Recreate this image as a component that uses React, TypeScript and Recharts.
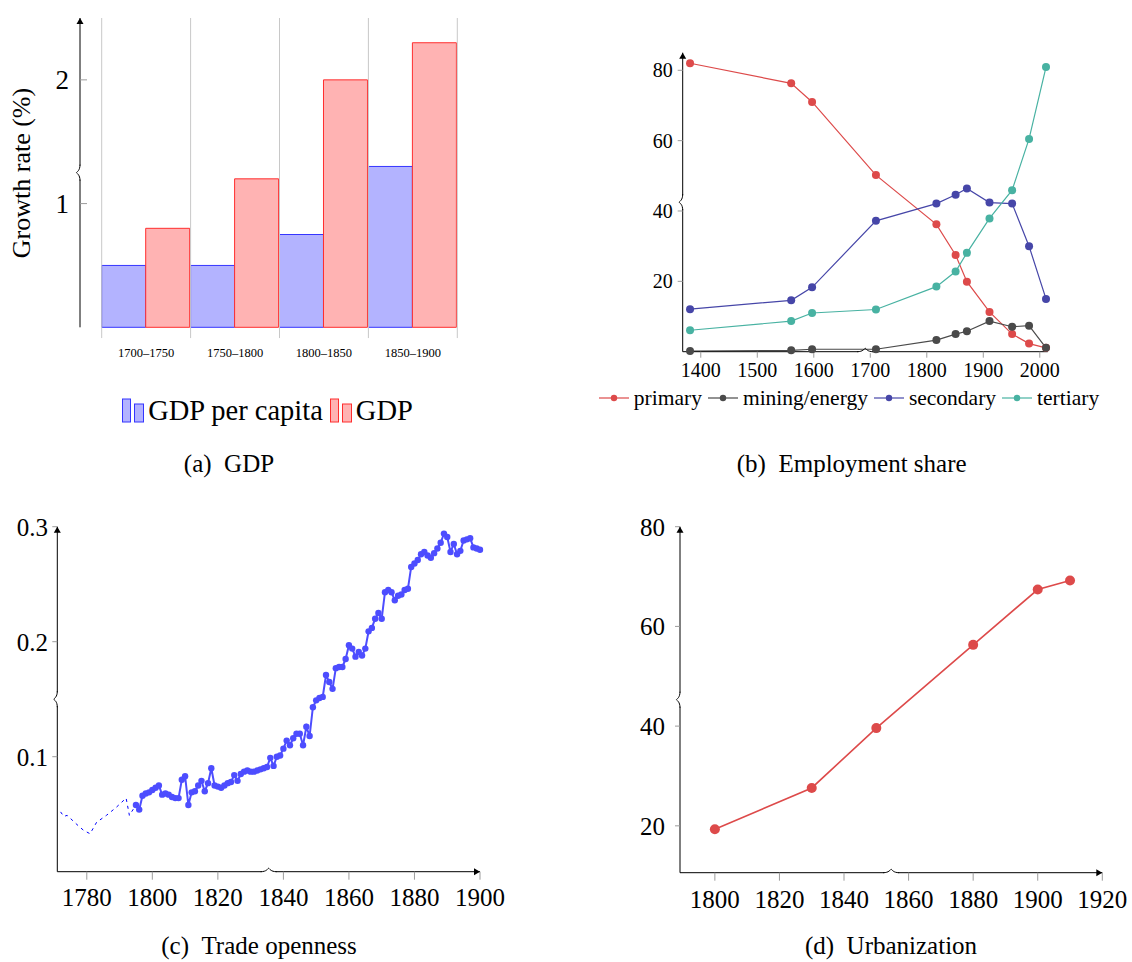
import React from 'react';
import {
  Bar,
  BarChart,
  Line,
  LineChart,
  ReferenceDot,
  ReferenceLine,
  XAxis,
  YAxis,
} from 'recharts';

const FONT = '"Liberation Serif", "DejaVu Serif", serif';

// (a) GDP growth by half-century
const gdpPeriods = ['1700–1750', '1750–1800', '1800–1850', '1850–1900'];
const gdpPerCapitaGrowth = [0.5, 0.5, 0.75, 1.3];
const gdpGrowth = [0.8, 1.2, 2.0, 2.3];
const gdpBoundaries = [0, 1, 2, 3, 4];
const gdpYTicks = [1, 2];

// (b) employment share by sector
const employmentYears = [1381, 1560, 1597, 1710, 1817, 1851, 1871, 1911, 1951, 1981, 2011];
const primaryShare = [82.0, 76.3, 71.0, 50.2, 36.2, 27.5, 19.9, 11.3, 5.0, 2.3, 1.1];
const miningShare = [0.2, 0.4, 0.7, 0.7, 3.3, 5.0, 5.8, 8.7, 7.1, 7.4, 1.1];
const secondaryShare = [12.1, 14.6, 18.3, 37.2, 42.1, 44.6, 46.4, 42.4, 42.1, 30.0, 15.0];
const tertiaryShare = [6.1, 8.7, 11.0, 12.0, 18.5, 22.8, 28.1, 37.9, 45.9, 60.5, 80.9];
const employmentXTicks = [1400, 1500, 1600, 1700, 1800, 1900, 2000];
const employmentYTicks = [20, 40, 60, 80];

// (c) trade openness: early estimates (dashed) and annual series
const tradeEstimated: [number, number][] = [
  [1772, 0.052], [1773, 0.048], [1774, 0.049], [1777, 0.041], [1779, 0.036],
  [1781, 0.033], [1783, 0.043], [1786, 0.049], [1789, 0.056], [1792, 0.064],
  [1793, 0.049], [1795, 0.058],
];
const tradeAnnual: [number, number][] = [
  [1795, 0.058], [1796, 0.054], [1797, 0.066], [1798, 0.068], [1799, 0.069],
  [1800, 0.071], [1801, 0.073], [1802, 0.075], [1803, 0.067], [1804, 0.068],
  [1805, 0.067], [1806, 0.065], [1807, 0.064], [1808, 0.064], [1809, 0.080],
  [1810, 0.083], [1811, 0.058], [1812, 0.069], [1813, 0.070], [1814, 0.075],
  [1815, 0.079], [1816, 0.070], [1817, 0.077], [1818, 0.090], [1819, 0.075],
  [1820, 0.074], [1821, 0.073], [1822, 0.075], [1823, 0.077], [1824, 0.078],
  [1825, 0.084], [1826, 0.079], [1827, 0.085], [1828, 0.087], [1829, 0.088],
  [1830, 0.087], [1831, 0.087], [1832, 0.088], [1833, 0.089], [1834, 0.090],
  [1835, 0.091], [1836, 0.099], [1837, 0.092], [1838, 0.100], [1839, 0.101],
  [1840, 0.107], [1841, 0.114], [1842, 0.110], [1843, 0.116], [1844, 0.120],
  [1845, 0.120], [1846, 0.110], [1847, 0.126], [1848, 0.118], [1849, 0.143],
  [1850, 0.149], [1851, 0.151], [1852, 0.152], [1853, 0.171], [1854, 0.165],
  [1855, 0.159], [1856, 0.177], [1857, 0.178], [1858, 0.178], [1859, 0.185],
  [1860, 0.197], [1861, 0.194], [1862, 0.187], [1863, 0.191], [1864, 0.188],
  [1865, 0.194], [1866, 0.209], [1867, 0.212], [1868, 0.220], [1869, 0.225],
  [1870, 0.220], [1871, 0.243], [1872, 0.245], [1873, 0.243], [1874, 0.236],
  [1875, 0.240], [1876, 0.241], [1877, 0.245], [1878, 0.246], [1879, 0.265],
  [1880, 0.268], [1881, 0.271], [1882, 0.276], [1883, 0.278], [1884, 0.275],
  [1885, 0.273], [1886, 0.277], [1887, 0.281], [1888, 0.286], [1889, 0.294],
  [1890, 0.291], [1891, 0.278], [1892, 0.285], [1893, 0.276], [1894, 0.279],
  [1895, 0.288], [1896, 0.289], [1897, 0.290], [1898, 0.282], [1899, 0.281],
  [1900, 0.280],
];
const tradeXTicks = [1780, 1800, 1820, 1840, 1860, 1880, 1900];
const tradeYTicks = [0.1, 0.2, 0.3];

// (d) urbanization
const urbanYears = [1800, 1830, 1850, 1880, 1900, 1910];
const urbanShare = [19.3, 27.6, 39.6, 56.3, 67.4, 69.2];
const urbanXTicks = [1800, 1820, 1840, 1860, 1880, 1900, 1920];
const urbanYTicks = [20, 40, 60, 80];

const gdpSeries = [
  { key: 'perCapita', name: 'GDP per capita', fill: '#b3b3ff', stroke: '#3535ff' },
  { key: 'gdp', name: 'GDP', fill: '#ffb3b3', stroke: '#ff2e2e' },
];

const employmentSeries = [
  { key: 'primary', name: 'primary', color: '#dd4a4a', values: primaryShare },
  { key: 'mining', name: 'mining/energy', color: '#4a4a4a', values: miningShare },
  { key: 'secondary', name: 'secondary', color: '#4646a8', values: secondaryShare },
  { key: 'tertiary', name: 'tertiary', color: '#48b2a2', values: tertiaryShare },
];

// bars sit in the middle of their half-century slot on a numeric axis
const gdpTable = gdpPeriods.map((period, i) => ({
  slot: i + 0.5,
  period,
  perCapita: gdpPerCapitaGrowth[i],
  gdp: gdpGrowth[i],
}));
const gdpSlots = gdpTable.map((d) => d.slot);

const employmentTable = employmentYears.map((year, i) => {
  const row: Record<string, number> = { year };
  employmentSeries.forEach((s) => {
    row[s.key] = s.values[i];
  });
  return row;
});

const tradeEstimatedRows = tradeEstimated.map(([year, share]) => ({ year, share }));
const tradeAnnualRows = tradeAnnual.map(([year, share]) => ({ year, share }));
const urbanTable = urbanYears.map((year, i) => ({ year, share: urbanShare[i] }));

const axisLine = { stroke: '#000', strokeWidth: 1 };
const tickLine = { stroke: '#9c9c9c' };
const tickText = (fontSize: number) => ({ fontSize, fill: '#000', fontFamily: FONT });

// little pgfplots-style axis decorations
const upArrow = ({ cx, cy }: any) => (
  <path d={`M${cx - 3.5},${cy + 6} L${cx},${cy} L${cx + 3.5},${cy + 6} Z`} fill="#000" />
);
const rightArrow = ({ cx, cy }: any) => (
  <path d={`M${cx - 6},${cy - 3.5} L${cx},${cy} L${cx - 6},${cy + 3.5} Z`} fill="#000" />
);
const yBrace = ({ cx, cy }: any) => (
  <g>
    <line x1={cx} y1={cy - 7} x2={cx} y2={cy + 7} stroke="#fff" strokeWidth={3} />
    <path
      d={`M${cx},${cy - 8} C${cx},${cy - 2} ${cx - 3},${cy - 1} ${cx - 3.5},${cy} C${cx - 3},${cy + 1} ${cx},${cy + 2} ${cx},${cy + 8}`}
      fill="none"
      stroke="#000"
    />
  </g>
);
const xBrace = ({ cx, cy }: any) => (
  <g>
    <line x1={cx - 7} y1={cy} x2={cx + 7} y2={cy} stroke="#fff" strokeWidth={3} />
    <path
      d={`M${cx - 8},${cy} C${cx - 2},${cy} ${cx - 1},${cy - 3} ${cx},${cy - 3.5} C${cx + 1},${cy - 3} ${cx + 2},${cy} ${cx + 8},${cy}`}
      fill="none"
      stroke="#000"
    />
  </g>
);

function Caption({ center, top, text }: { center: number; top: number; text: string }) {
  return (
    <div
      style={{
        position: 'absolute',
        left: center - 250,
        top,
        width: 500,
        textAlign: 'center',
        fontFamily: FONT,
        fontSize: 25,
        lineHeight: '28px',
        whiteSpace: 'pre',
      }}
    >
      {text}
    </div>
  );
}

function GdpPanel() {
  return (
    <>
      <div style={{ position: 'absolute', left: 0, top: 0 }}>
        <BarChart
          width={470}
          height={380}
          data={gdpTable}
          margin={{ top: 18, right: 12.7, bottom: 0, left: 0 }}
          barCategoryGap={0}
          barGap={0}
          style={{ fontFamily: FONT }}
        >
          <XAxis
            dataKey="slot"
            type="number"
            domain={[-0.244, 4]}
            allowDataOverflow
            ticks={gdpSlots}
            interval={0}
            tickFormatter={(v) => gdpPeriods[Math.floor(Number(v))] ?? ''}
            height={52.7}
            tickLine={false}
            axisLine={false}
            tickSize={0}
            tickMargin={20.6}
            tick={tickText(12.5)}
          />
          <YAxis
            width={80}
            domain={[0, 2.5]}
            ticks={gdpYTicks}
            tickSize={-7}
            tickMargin={18}
            axisLine={axisLine}
            tickLine={tickLine}
            tick={tickText(27)}
          />
          {gdpBoundaries.map((b) => (
            <ReferenceLine
              key={b}
              segment={[
                { x: b, y: -0.087 },
                { x: b, y: 2.5 },
              ]}
              stroke="#c8c8c8"
              strokeWidth={1}
              ifOverflow="visible"
            />
          ))}
          {gdpSeries.map((s) => (
            <Bar
              key={s.key}
              dataKey={s.key}
              name={s.name}
              fill={s.fill}
              stroke={s.stroke}
              strokeWidth={1}
              isAnimationActive={false}
            />
          ))}
          <ReferenceDot x={-0.244} y={2.5} r={0} ifOverflow="visible" shape={upArrow} />
          <ReferenceDot x={-0.244} y={1.25} r={0} ifOverflow="visible" shape={yBrace} />
        </BarChart>
      </div>
      <div
        style={{
          position: 'absolute',
          left: 22 - 110,
          top: 173 - 15,
          width: 220,
          height: 30,
          lineHeight: '30px',
          fontFamily: FONT,
          fontSize: 26,
          textAlign: 'center',
          transform: 'rotate(-90deg)',
        }}
      >
        Growth rate (%)
      </div>
      <div
        style={{
          position: 'absolute',
          left: 267.5 - 200,
          top: 395,
          width: 400,
          display: 'flex',
          justifyContent: 'center',
          alignItems: 'center',
          fontFamily: FONT,
          fontSize: 28.5,
          lineHeight: '32px',
        }}
      >
        {gdpSeries.map((s, i) => (
          <span key={s.key} style={{ display: 'flex', alignItems: 'center', marginLeft: i ? 7 : 0 }}>
            <svg width={22} height={26} style={{ marginRight: 4 }}>
              <rect x={0.5} y={1} width={8} height={23} fill={s.fill} stroke={s.stroke} />
              <rect x={12.5} y={6} width={9} height={18} fill={s.fill} stroke={s.stroke} />
            </svg>
            <span style={{ fontFamily: FONT }}>{s.name}</span>
          </span>
        ))}
      </div>
      <Caption center={229} top={449.6} text={'(a)\u2002GDP'} />
    </>
  );
}

function EmploymentPanel() {
  return (
    <>
      <div style={{ position: 'absolute', left: 600, top: 0 }}>
        <LineChart
          width={480}
          height={380}
          data={employmentTable}
          margin={{ top: 52.7, right: 32.3, bottom: 0, left: 0 }}
          style={{ fontFamily: FONT }}
        >
          <XAxis
            dataKey="year"
            type="number"
            domain={[1368, 2014]}
            ticks={employmentXTicks}
            interval={0}
            height={28.3}
            tickSize={6}
            tickMargin={5}
            axisLine={axisLine}
            tickLine={tickLine}
            tick={tickText(20)}
          />
          <YAxis
            width={82.7}
            domain={[0, 85]}
            ticks={employmentYTicks}
            tickSize={5}
            tickMargin={5}
            axisLine={axisLine}
            tickLine={tickLine}
            tick={tickText(20)}
          />
          <ReferenceDot x={1368} y={85} r={0} ifOverflow="visible" shape={upArrow} />
          <ReferenceDot x={1368} y={42.5} r={0} ifOverflow="visible" shape={yBrace} />
          <ReferenceDot x={1691} y={0} r={0} ifOverflow="visible" shape={xBrace} />
          {employmentSeries.map((s) => (
            <Line
              key={s.key}
              dataKey={s.key}
              name={s.name}
              stroke={s.color}
              strokeWidth={1.2}
              dot={{ r: 4, fill: s.color, stroke: s.color, strokeWidth: 0 }}
              activeDot={false}
              isAnimationActive={false}
            />
          ))}
        </LineChart>
      </div>
      <div
        style={{
          position: 'absolute',
          left: 849 - 300,
          top: 386,
          width: 600,
          display: 'flex',
          justifyContent: 'center',
          alignItems: 'center',
          fontFamily: FONT,
          fontSize: 21.5,
          lineHeight: '24px',
        }}
      >
        {employmentSeries.map((s, i) => (
          <span key={s.key} style={{ display: 'flex', alignItems: 'center', marginLeft: i ? 6 : 0 }}>
            <svg width={30} height={10} style={{ marginRight: 5 }}>
              <line x1={0} y1={5} x2={30} y2={5} stroke={s.color} strokeWidth={1.2} />
              <circle cx={15} cy={5} r={3.2} fill={s.color} />
            </svg>
            <span style={{ fontFamily: FONT }}>{s.name}</span>
          </span>
        ))}
      </div>
      <Caption center={851.7} top={449.6} text={'(b)\u2002Employment share'} />
    </>
  );
}

function TradePanel() {
  return (
    <>
      <div style={{ position: 'absolute', left: 0, top: 480 }}>
        <LineChart
          width={520}
          height={440}
          margin={{ top: 46.7, right: 40, bottom: 0, left: 0 }}
          style={{ fontFamily: FONT }}
        >
          <XAxis
            dataKey="year"
            type="number"
            domain={[1771, 1900]}
            ticks={tradeXTicks}
            interval={0}
            height={48.3}
            tickSize={8}
            tickMargin={8.4}
            axisLine={axisLine}
            tickLine={tickLine}
            tick={tickText(25)}
          />
          <YAxis
            width={57.3}
            domain={[0, 0.3]}
            ticks={tradeYTicks}
            tickSize={5}
            tickMargin={4.3}
            axisLine={axisLine}
            tickLine={tickLine}
            tick={tickText(25)}
          />
          <ReferenceDot x={1771} y={0.3} r={0} ifOverflow="visible" shape={upArrow} />
          <ReferenceDot x={1771} y={0.15} r={0} ifOverflow="visible" shape={yBrace} />
          <ReferenceDot x={1835.5} y={0} r={0} ifOverflow="visible" shape={xBrace} />
          <ReferenceDot x={1900} y={0} r={0} ifOverflow="visible" shape={rightArrow} />
          <Line
            data={tradeEstimatedRows}
            dataKey="share"
            stroke="#0000ff"
            strokeWidth={1}
            strokeDasharray="3 4"
            dot={false}
            activeDot={false}
            isAnimationActive={false}
          />
          <Line
            data={tradeAnnualRows}
            dataKey="share"
            stroke="#4d4dff"
            strokeWidth={2}
            dot={{ r: 3.2, fill: '#4d4dff', stroke: '#4d4dff', strokeWidth: 0 }}
            activeDot={false}
            isAnimationActive={false}
          />
        </LineChart>
      </div>
      <Caption center={259} top={932} text={'(c)\u2002Trade openness'} />
    </>
  );
}

function UrbanPanel() {
  return (
    <>
      <div style={{ position: 'absolute', left: 600, top: 480 }}>
        <LineChart
          width={532}
          height={440}
          data={urbanTable}
          margin={{ top: 46.7, right: 29.7, bottom: 0, left: 0 }}
          style={{ fontFamily: FONT }}
        >
          <XAxis
            dataKey="year"
            type="number"
            domain={[1789.2, 1920]}
            ticks={urbanXTicks}
            interval={0}
            height={47.3}
            tickSize={8}
            tickMargin={9.5}
            axisLine={axisLine}
            tickLine={tickLine}
            tick={tickText(25)}
          />
          <YAxis
            width={80}
            domain={[10.6, 80]}
            ticks={urbanYTicks}
            tickSize={5}
            tickMargin={10}
            axisLine={axisLine}
            tickLine={tickLine}
            tick={tickText(25)}
          />
          <ReferenceDot x={1789.2} y={80} r={0} ifOverflow="visible" shape={upArrow} />
          <ReferenceDot x={1789.2} y={45.3} r={0} ifOverflow="visible" shape={yBrace} />
          <ReferenceDot x={1854.6} y={10.6} r={0} ifOverflow="visible" shape={xBrace} />
          <ReferenceDot x={1920} y={10.6} r={0} ifOverflow="visible" shape={rightArrow} />
          <Line
            dataKey="share"
            stroke="#dd4a4a"
            strokeWidth={1.6}
            dot={{ r: 5, fill: '#dd4a4a', stroke: '#dd4a4a', strokeWidth: 0 }}
            activeDot={false}
            isAnimationActive={false}
          />
        </LineChart>
      </div>
      <Caption center={891} top={932} text={'(d)\u2002Urbanization'} />
    </>
  );
}

export default function App() {
  return (
    <div
      style={{
        position: 'absolute',
        left: 0,
        top: 0,
        width: 1132,
        height: 962,
        background: '#fff',
        color: '#000',
        fontFamily: FONT,
        overflow: 'hidden',
      }}
    >
      <GdpPanel />
      <EmploymentPanel />
      <TradePanel />
      <UrbanPanel />
    </div>
  );
}
